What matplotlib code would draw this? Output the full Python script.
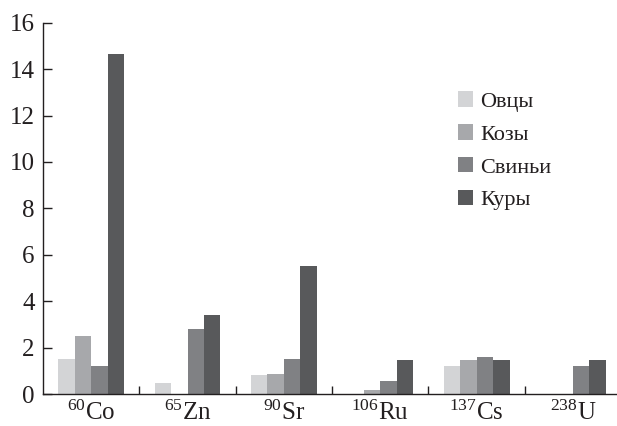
import numpy as np
import matplotlib
matplotlib.use("Agg")
import matplotlib.pyplot as plt

plt.rcParams['font.family'] = ['Liberation Serif', 'DejaVu Serif']
plt.rcParams['mathtext.fontset'] = 'custom'
plt.rcParams['mathtext.rm'] = 'Liberation Serif'

isotopes = [r'$\mathregular{^{60}Co}$', r'$\mathregular{^{65}Zn}$', r'$\mathregular{^{90}Sr}$',
            r'$\mathregular{^{106}Ru}$', r'$\mathregular{^{137}Cs}$', r'$\mathregular{^{238}U}$']
animals = ['Овцы', 'Козы', 'Свиньи', 'Куры']
colors = ['#d3d4d6', '#a7a8ab', '#808184', '#58595b']

sheep = [1.52, 0.49, 0.83, 0.0, 1.2, 0.0]
goats = [2.5, 0.0, 0.87, 0.17, 1.46, 0.0]
pigs = [1.22, 2.79, 1.5, 0.56, 1.59, 1.2]
hens = [14.65, 3.39, 5.5, 1.46, 1.46, 1.46]
values = [sheep, goats, pigs, hens]

ink = '#231f20'
fig = plt.figure(figsize=(6.17, 4.26), dpi=100)
ax = fig.add_axes([0.0697, 0.0751, 0.937, 0.8716])

x = np.arange(len(isotopes))
w = 0.171
for i, (vals, name, c) in enumerate(zip(values, animals, colors)):
    ax.bar(x + (i - 1.5) * w, vals, width=w, color=c, label=name)

ax.set_xlim(-0.5, 5.5)
ax.set_ylim(0, 16)
ax.set_yticks(range(0, 17, 2))
ax.set_xticks(x)
ax.set_xticklabels(isotopes)
ax.set_xticks(x[:-1] + 0.5, minor=True)

ax.spines['top'].set_visible(False)
ax.spines['right'].set_visible(False)
for s in ['left', 'bottom']:
    ax.spines[s].set_linewidth(1.0)
    ax.spines[s].set_color(ink)

ax.tick_params(axis='y', direction='in', length=6.5, width=1.0, color=ink,
               labelsize=18, labelcolor=ink, pad=6)
ax.tick_params(axis='x', which='major', length=0, labelsize=18, labelcolor=ink, pad=5)
ax.tick_params(axis='x', which='minor', direction='in', length=6, width=1.0, color=ink)

ax.legend(loc='upper left', bbox_to_anchor=(0.717, 0.815), frameon=False,
          fontsize=16, handlelength=0.68, handleheight=0.68, handletextpad=0.35,
          labelspacing=0.56, borderpad=0, borderaxespad=0, labelcolor=ink)

fig.savefig('out.png', dpi=100)
